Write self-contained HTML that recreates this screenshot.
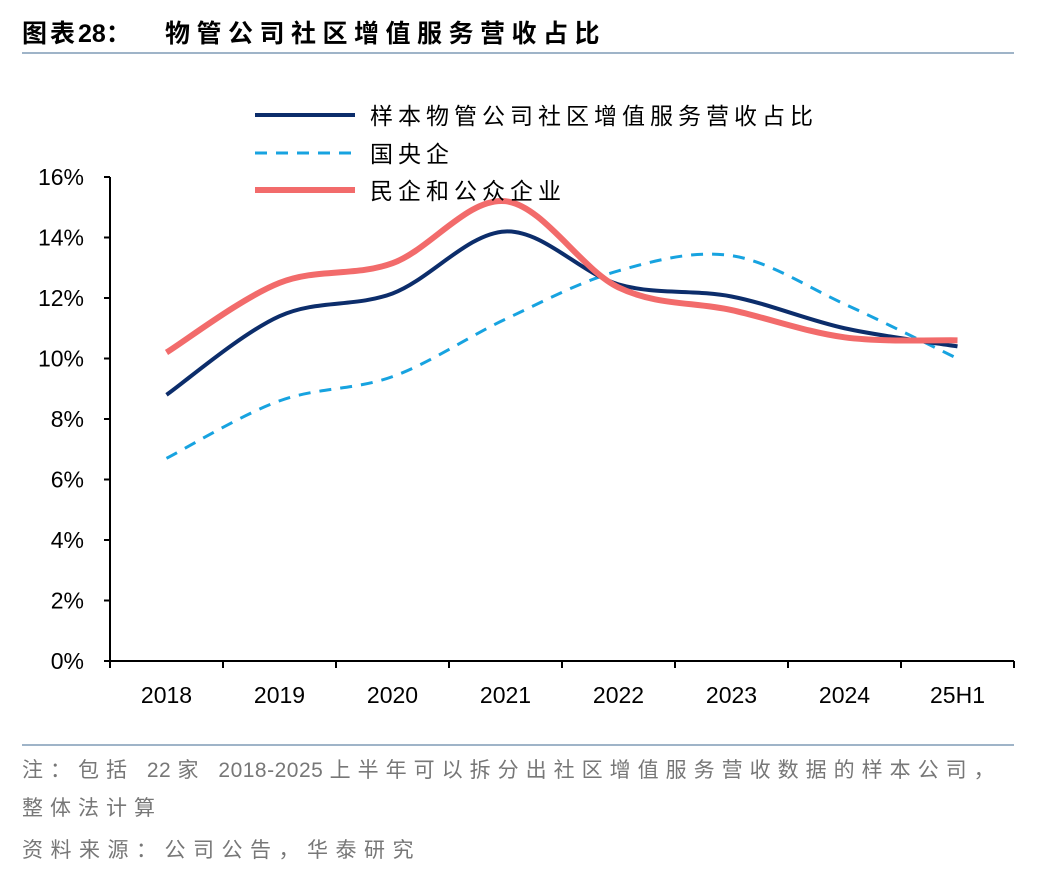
<!DOCTYPE html>
<html><head><meta charset="utf-8"><style>
body{margin:0;width:1048px;height:872px;background:#fff;font-family:"Liberation Sans","Noto Sans CJK SC",sans-serif;overflow:hidden}
</style></head><body>
<svg width="1048" height="872">
<text x="22" y="42" font-size="25" font-weight="bold" fill="#000" font-family="Liberation Sans, Noto Sans CJK SC, sans-serif"><tspan letter-spacing="3">图表</tspan><tspan letter-spacing="0">28：</tspan><tspan x="165" letter-spacing="6.5">物管公司社区增值服务营收占比</tspan></text>
<line x1="22" y1="53" x2="1014" y2="53" stroke="#9fb4c8" stroke-width="2"/>
<g id="axes"></g>
<g id="series"></g>
<g>
<line x1="255" y1="115" x2="355" y2="115" stroke="#0c2d6b" stroke-width="4"/>
<text x="370" y="124" font-size="23" letter-spacing="5">样本物管公司社区增值服务营收占比</text>
<line x1="255" y1="153" x2="355" y2="153" stroke="#17a3e0" stroke-width="3" stroke-dasharray="12,9"/>
<text x="370" y="162" font-size="23" letter-spacing="5">国央企</text>
<line x1="255" y1="190" x2="355" y2="190" stroke="#f26b6b" stroke-width="6"/>
<text x="370" y="199" font-size="23" letter-spacing="5">民企和公众企业</text>
</g>
<line x1="22" y1="745" x2="1014" y2="745" stroke="#9fb4c8" stroke-width="2"/>
<text x="22" y="777" font-size="21" fill="#777"><tspan letter-spacing="7">注：包括 </tspan><tspan letter-spacing="0.5">22 </tspan><tspan letter-spacing="7">家 </tspan><tspan letter-spacing="0.5">2018-2025 </tspan><tspan letter-spacing="7">上半年可以拆分出社区增值服务营收数据的样本公司，</tspan></text>
<text x="22" y="815" font-size="21" fill="#777" letter-spacing="7">整体法计算</text>
<text x="22" y="857" font-size="21" fill="#777" letter-spacing="7.5">资料来源：公司公告，华泰研究</text>
</svg>
<script>
const categories=["2018","2019","2020","2021","2022","2023","2024","25H1"];
const sampleVals=[8.8,11.4,12.15,14.2,12.45,12.05,11.0,10.4];
const soeVals=[6.7,8.6,9.4,11.3,12.9,13.4,11.8,10.0];
const privateVals=[10.2,12.5,13.15,15.2,12.35,11.6,10.7,10.6];
const yTicks=[0,2,4,6,8,10,12,14,16];
const NS="http://www.w3.org/2000/svg";
const L=110,R=1014,T=177,B=661,step=(R-L)/categories.length;
const xs=i=>L+step*(i+0.5);
const ys=v=>B-(v/16)*(B-T);
const ax=document.getElementById('axes'),se=document.getElementById('series');
function mk(tag,a,p){const e=document.createElementNS(NS,tag);for(const k in a)e.setAttribute(k,a[k]);p.appendChild(e);return e;}
let e=mk('line',{x1:L,y1:T,x2:L,y2:B,stroke:'#000','stroke-width':2},ax);


e=mk('line',{x1:L,y1:B,x2:R,y2:B,stroke:'#000','stroke-width':2},ax);


yTicks.forEach(v=>{
 const t=mk('line',{x1:L-6,y1:ys(v),x2:L,y2:ys(v),stroke:'#000','stroke-width':2},ax);
 
 
 const l=mk('text',{x:L-26,y:ys(v)+8,'font-size':23,'text-anchor':'end'},ax);l.textContent=v+'%';
 
 
});
for(let i=0;i<=categories.length;i++){
 const t=mk('line',{x1:L+step*i,y1:B,x2:L+step*i,y2:B+7,stroke:'#000','stroke-width':2},ax);
 
 
}
categories.forEach((c,i)=>{
 const l=mk('text',{x:xs(i),y:B+42,'font-size':23,'text-anchor':'middle'},ax);l.textContent=c;
 
 
});
function path(vals){
 const p=vals.map((v,i)=>[xs(i),ys(v)]);let d='M'+p[0][0]+','+p[0][1];
 for(let i=0;i<p.length-1;i++){
  const p0=p[Math.max(i-1,0)],p1=p[i],p2=p[i+1],p3=p[Math.min(i+2,p.length-1)];
  const c1=[p1[0]+(p2[0]-p0[0])/6,p1[1]+(p2[1]-p0[1])/6],c2=[p2[0]-(p3[0]-p1[0])/6,p2[1]-(p3[1]-p1[1])/6];
  d+=' C'+c1+' '+c2+' '+p2;
 }return d;}
e=mk('path',{d:path(soeVals),fill:'none',stroke:'#17a3e0','stroke-width':3,'stroke-dasharray':'12,9'},se);


e=mk('path',{d:path(sampleVals),fill:'none',stroke:'#0c2d6b','stroke-width':4},se);


e=mk('path',{d:path(privateVals),fill:'none',stroke:'#f26b6b','stroke-width':6},se);


</script>
</body></html>
